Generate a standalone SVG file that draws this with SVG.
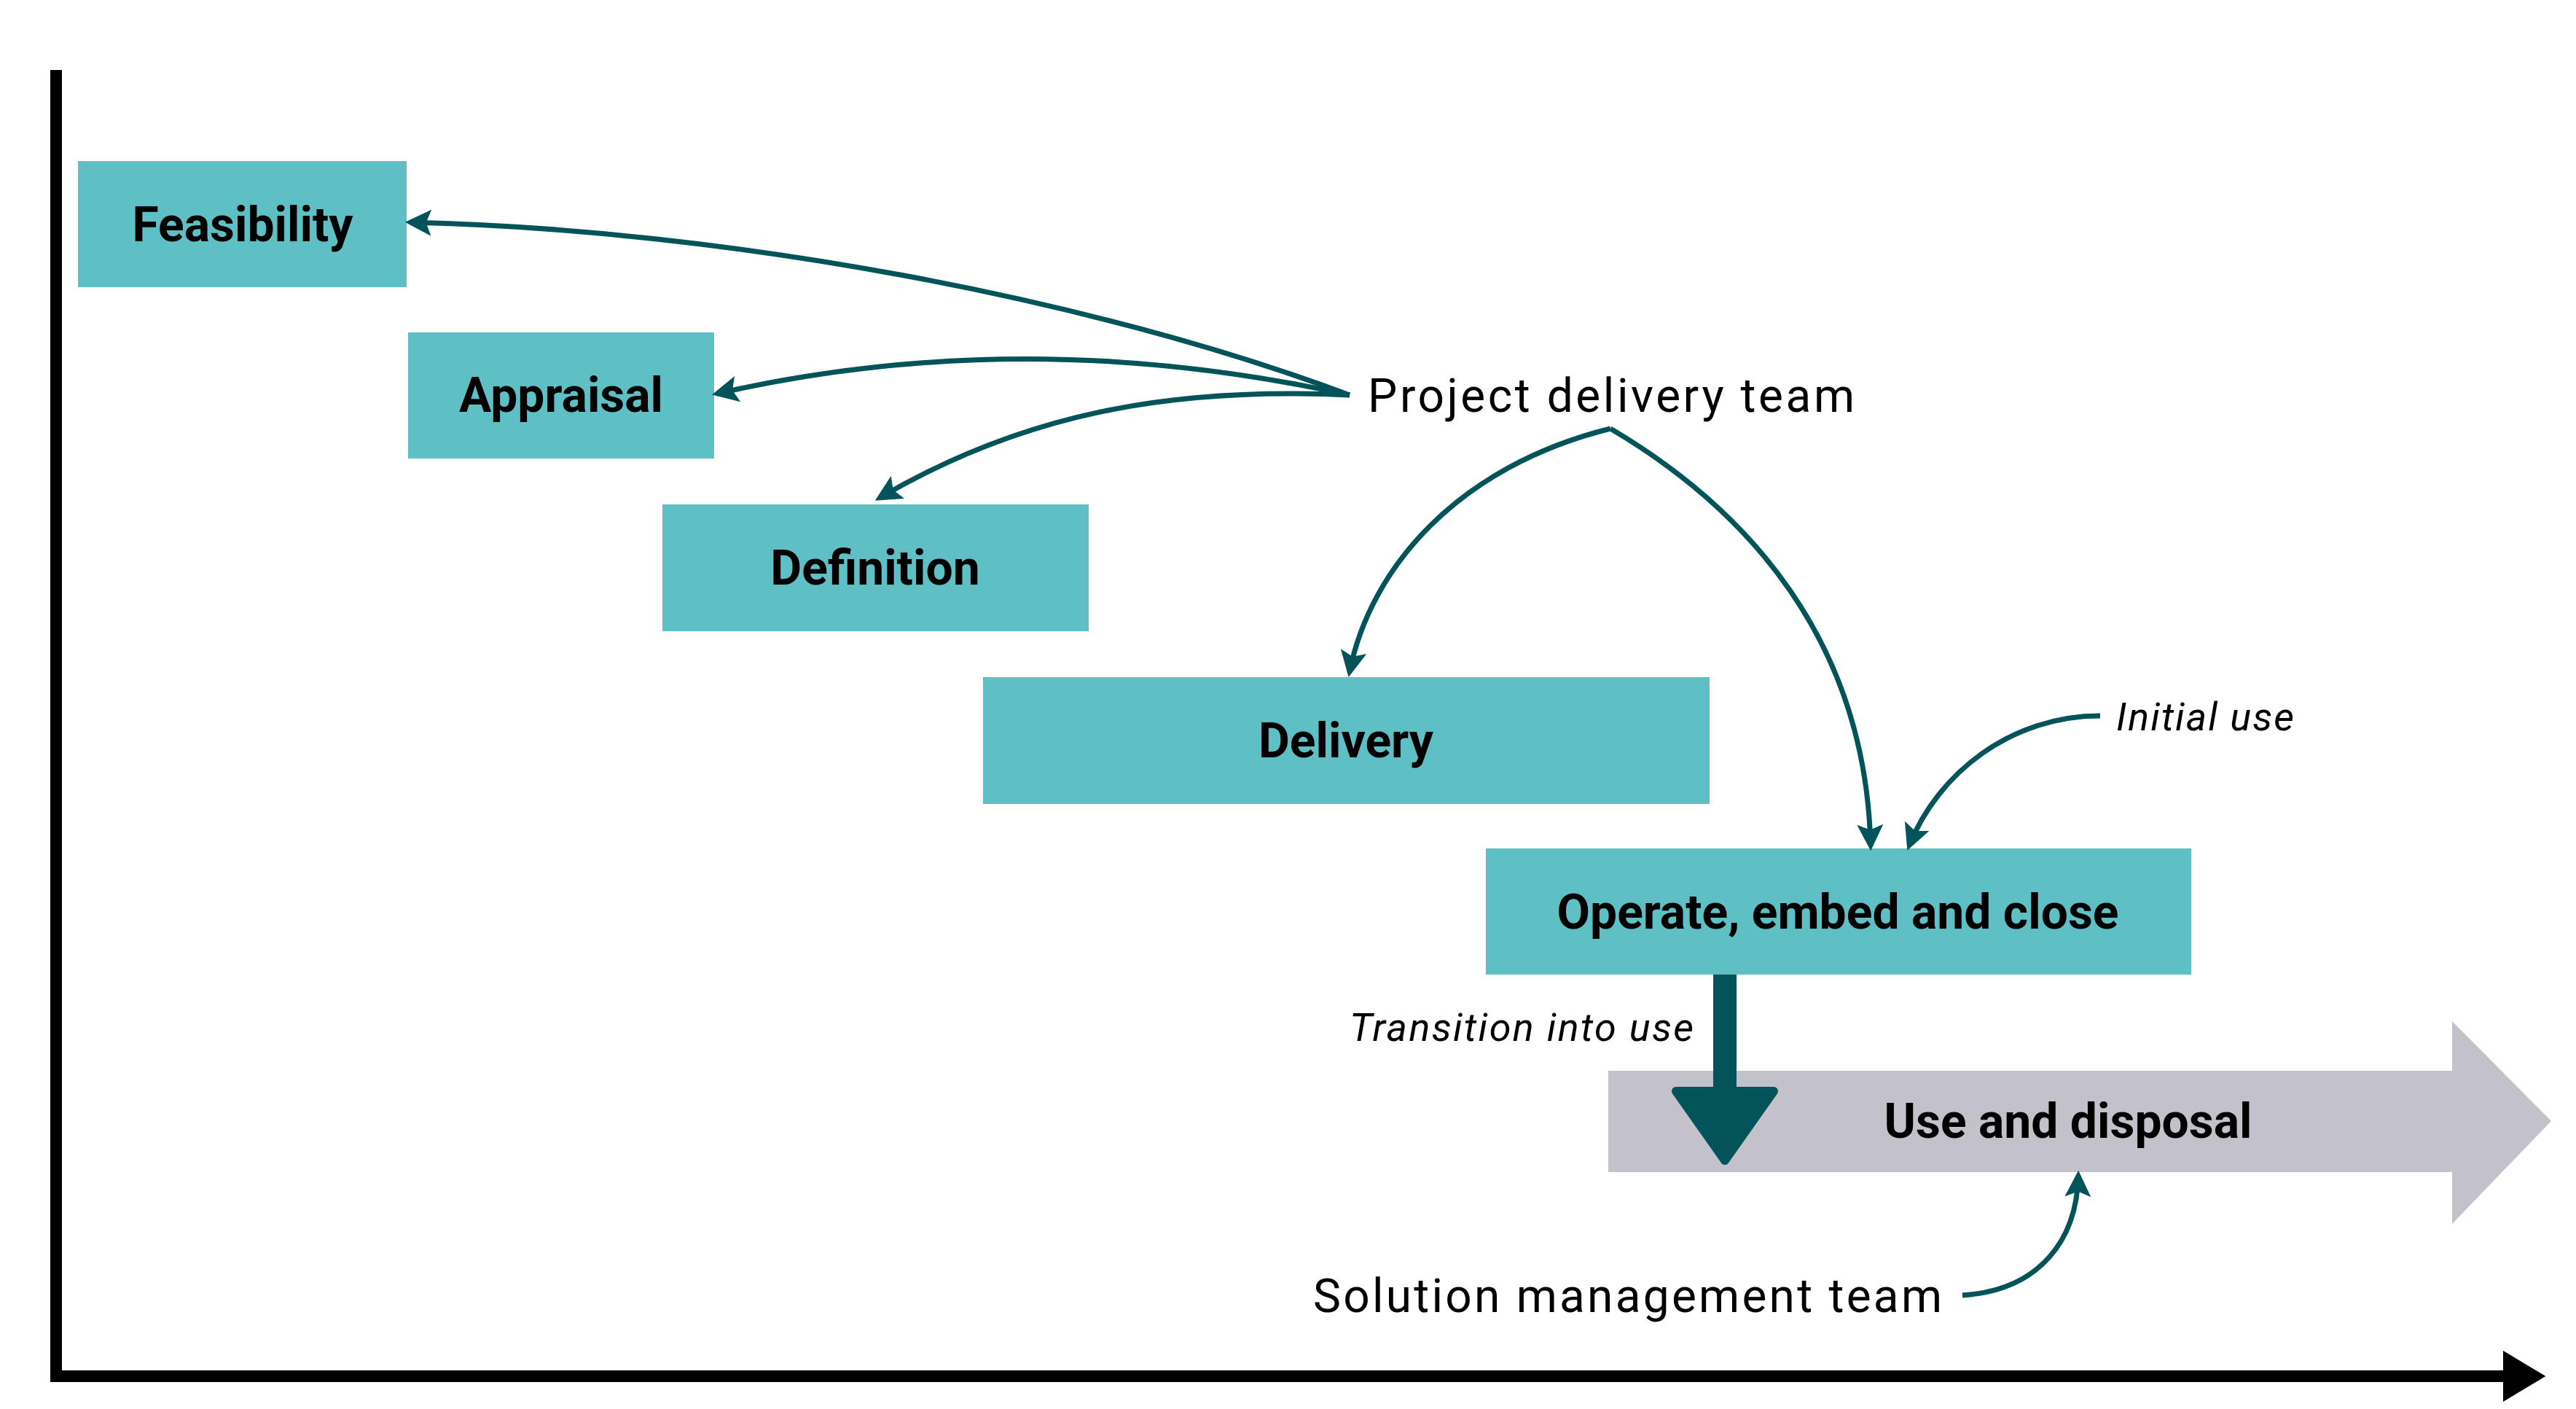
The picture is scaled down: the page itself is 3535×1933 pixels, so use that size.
<svg xmlns="http://www.w3.org/2000/svg" width="3535" height="1933" viewBox="0 0 3535 1933">
<style>
.box{fill:#5ebfc4}
.lbl{font-family:Roboto,"Liberation Sans",sans-serif;font-weight:bold;font-size:66px;fill:#000;text-anchor:middle;dominant-baseline:central}
.txt{font-family:Roboto,"Liberation Sans",sans-serif;font-size:64px;fill:#000}
.it{font-family:Roboto,"Liberation Sans",sans-serif;font-style:italic;font-size:54px;fill:#000}
.con{fill:none;stroke:#02545a;stroke-width:7;marker-end:url(#ah)}
</style>
<defs>
<marker id="ah" markerUnits="userSpaceOnUse" markerWidth="36" markerHeight="36" viewBox="0 0 10 10" refX="8" refY="5" orient="auto">
<path d="M0,0 L10,5 L0,10 L2,5 Z" fill="#02545a"/>
</marker>
<marker id="axh" markerUnits="userSpaceOnUse" markerWidth="60" markerHeight="70" viewBox="0 0 10 12" refX="6" refY="6" orient="auto">
<path d="M0,0 L10,6 L0,12 Z" fill="#000"/>
</marker>
</defs>
<rect width="3535" height="1933" fill="#fff"/>
<g id="axes">
<line x1="77" y1="96" x2="77" y2="1896" stroke="#000" stroke-width="16"/>
<line x1="69" y1="1888" x2="3470" y2="1888" stroke="#000" stroke-width="16" marker-end="url(#axh)"/>
</g>
<g id="use-disposal">
<path d="M2207,1469 H3365 V1401 L3501,1538 L3365,1679 V1608 H2207 Z" fill="#c3c2cb"/>
<text class="lbl" x="2838" y="1538">Use and disposal</text>
</g>
<g id="feasibility"><rect class="box" x="107" y="221" width="451" height="173"/><text class="lbl" x="333" y="308">Feasibility</text></g>
<g id="appraisal"><rect class="box" x="560" y="456" width="420" height="173"/><text class="lbl" x="770" y="542">Appraisal</text></g>
<g id="definition"><rect class="box" x="909" y="692" width="585" height="174"/><text class="lbl" x="1201" y="779">Definition</text></g>
<g id="delivery"><rect class="box" x="1349" y="929" width="997" height="174"/><text class="lbl" x="1847" y="1016">Delivery</text></g>
<g id="operate"><rect class="box" x="2039" y="1164" width="968" height="173"/><text class="lbl" x="2522" y="1251">Operate, embed and close</text></g>
<g id="transition">
<rect x="2351" y="1337" width="32" height="165" fill="#02545a"/>
<path d="M2300,1497 L2434,1497 L2367,1592 Z" fill="#02545a" stroke="#02545a" stroke-width="12" stroke-linejoin="round"/>
</g>
<g id="labels">
<text class="txt" x="1877" y="565" textLength="668">Project delivery team</text>
<text class="it" x="2904" y="1002" textLength="244">Initial use</text>
<text class="it" x="1852" y="1428" textLength="472">Transition into use</text>
<text class="txt" x="1802" y="1800" textLength="863">Solution management team</text>
</g>
<g id="connectors">
<path class="con" d="M1852,542 C1500,410 1000,315 563,305"/>
<path class="con" d="M1852,542 Q1406,444 984,540"/>
<path class="con" d="M1852,542 C1600,530 1400,570 1207,683"/>
<path class="con" d="M2210,588 C2000,640 1880,780 1852,922"/>
<path class="con" d="M2210,588 C2400,700 2560,880 2567,1160"/>
<path class="con" d="M2882,982 C2760,982 2660,1060 2620,1160"/>
<path class="con" d="M2693,1777 C2800,1770 2850,1700 2852,1613"/>
</g>
</svg>
